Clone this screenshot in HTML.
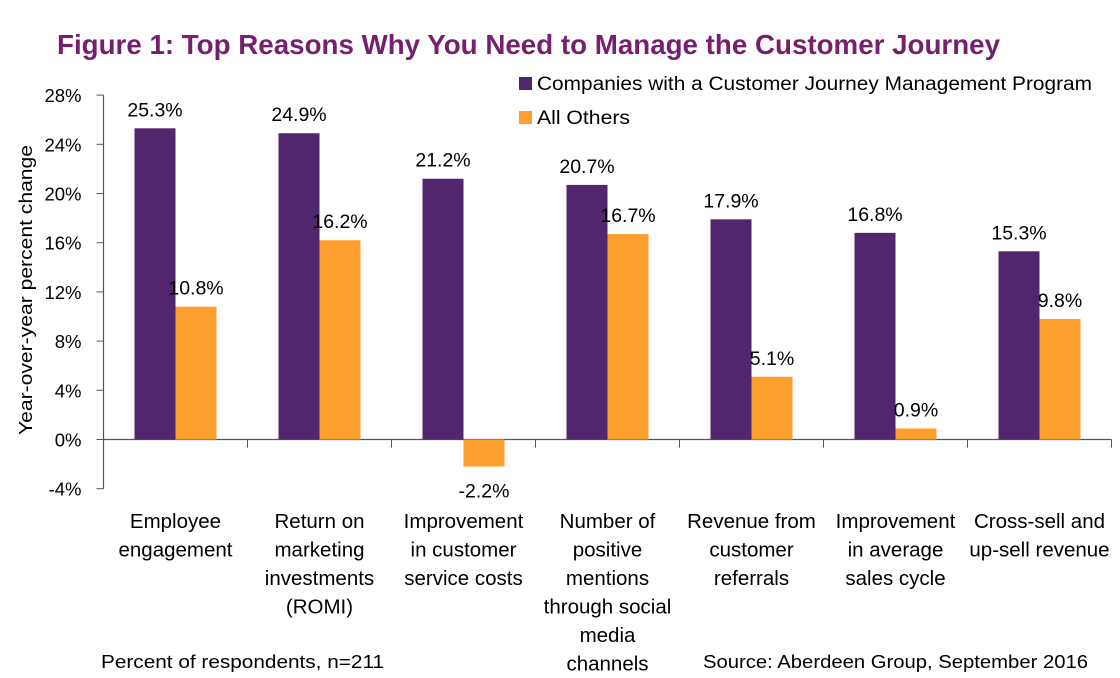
<!DOCTYPE html>
<html><head><meta charset="utf-8"><style>
body{margin:0;background:#fff;width:1120px;height:678px;overflow:hidden}
svg{display:block;font-family:"Liberation Sans",sans-serif}
</style></head><body>
<svg id="chart" width="1120" height="678">
<text x="57" y="54" font-size="28" font-weight="bold" fill="#761F6E" textLength="943" lengthAdjust="spacingAndGlyphs">Figure 1: Top Reasons Why You Need to Manage the Customer Journey</text>
<g>
<rect x="519" y="77" width="13" height="13" fill="#52266F"/>
<text x="537" y="90" font-size="19" textLength="555" lengthAdjust="spacingAndGlyphs">Companies with a Customer Journey Management Program</text>
<rect x="519" y="111" width="13" height="13" fill="#FF9E30"/>
<text x="537" y="124" font-size="19" textLength="93" lengthAdjust="spacingAndGlyphs">All Others</text>
</g>
<text transform="translate(32,290) rotate(-90)" text-anchor="middle" font-size="18" textLength="290" lengthAdjust="spacingAndGlyphs">Year-over-year percent change</text>
<g id="plot"></g>
<text x="101" y="668" font-size="18" textLength="283" lengthAdjust="spacingAndGlyphs">Percent of respondents, n=211</text>
<text x="703" y="668" font-size="18" textLength="385" lengthAdjust="spacingAndGlyphs">Source: Aberdeen Group, September 2016</text>
</svg>
<script>
const categories=[["Employee","engagement"],["Return on","marketing","investments","(ROMI)"],["Improvement","in customer","service costs"],["Number of","positive","mentions","through social","media","channels"],["Revenue from","customer","referrals"],["Improvement","in average","sales cycle"],["Cross-sell and","up-sell revenue"]];
const companies=[25.3,24.9,21.2,20.7,17.9,16.8,15.3];
const others=[10.8,16.2,-2.2,16.7,5.1,0.9,9.8];
const ticks=[-4,0,4,8,12,16,20,24,28];

const NS="http://www.w3.org/2000/svg";
const g=document.getElementById('plot');
const X0=103.5,CW=144,Y0=439.5,PX=49.2/4;
const y=v=>Y0-v*PX;
const cx=i=>X0+CW*(i+0.5);
function mk(t,a){const e=document.createElementNS(NS,t);for(const k in a)e.setAttribute(k,a[k]);g.appendChild(e);return e;}
let ax=mk('line',{x1:X0,x2:X0,y1:y(28),y2:y(-4),stroke:'#555','stroke-width':1.2});


ticks.forEach(t=>{
 let l=mk('line',{x1:X0-7,x2:X0,y1:y(t),y2:y(t),stroke:'#555'});
 
 
 let tx=mk('text',{x:X0-22,y:y(t)+7,'font-size':18.5,'text-anchor':'end'});
 tx.textContent=t+'%';
 
 
});
let xa=mk('line',{x1:X0,x2:X0+CW*categories.length,y1:Y0,y2:Y0,stroke:'#555','stroke-width':1.2});


for(let i=1;i<=categories.length;i++){
 let l=mk('line',{x1:X0+CW*i,x2:X0+CW*i,y1:Y0,y2:Y0+8,stroke:'#555'});
 
 
}
const BW=41;
function bar(i,v,off,col,name){
 const top=Math.min(y(v),Y0),h=Math.abs(y(v)-Y0);
 let r=mk('rect',{x:cx(i)+off,y:top,width:BW,height:h,fill:col});
 
 
 let t=mk('text',{x:cx(i)+off+BW/2,y:v>=0?y(v)-12:y(v)+31,'font-size':19.5,'text-anchor':'middle'});
 t.textContent=v.toFixed(1)+'%';
 
 
}
categories.forEach((c,i)=>{
 bar(i,companies[i],-BW,'#52266F','bar-companies');
 bar(i,others[i],0,'#FF9E30','bar-others');
 c.forEach((ln,j)=>{
  let t=mk('text',{x:cx(i),y:528+j*28.5,'font-size':20.5,'text-anchor':'middle'});
  t.textContent=ln;
  
  
 });
});
</script>
</body></html>
